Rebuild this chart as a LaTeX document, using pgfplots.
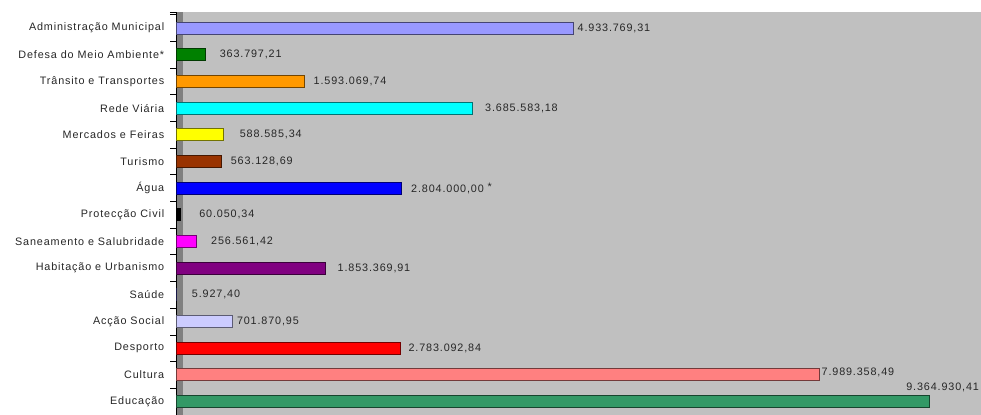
\documentclass[border=0pt]{standalone}
\usepackage{pgfplots}
\pgfplotsset{compat=1.18}
\usepackage{fontspec}
\setmainfont{Liberation Sans}[LetterSpace=8]

\definecolor{plotbg}{HTML}{C0C0C0}
\definecolor{wall}{HTML}{808080}
\definecolor{cAdm}{HTML}{9999FF}
\definecolor{cDef}{HTML}{008000}
\definecolor{cTra}{HTML}{FF9900}
\definecolor{cRed}{HTML}{00FFFF}
\definecolor{cMer}{HTML}{FFFF00}
\definecolor{cTur}{HTML}{993300}
\definecolor{cAgu}{HTML}{0000FF}
\definecolor{cPro}{HTML}{000000}
\definecolor{cSan}{HTML}{FF00FF}
\definecolor{cHab}{HTML}{800080}
\definecolor{cSau}{HTML}{333399}
\definecolor{cAcc}{HTML}{CCCCFF}
\definecolor{cDes}{HTML}{FF0000}
\definecolor{cCul}{HTML}{FF8080}
\definecolor{cEdu}{HTML}{339966}

\pgfplotsset{
  bb/.style={fill=#1, draw=#1!45!black, line width=1bp, bar shift=0pt},
}

\begin{document}
\fontsize{10.8bp}{12bp}\selectfont
\begin{tikzpicture}
\begin{axis}[
    set layers,
    scale only axis,
    width=805bp,
    height=403bp,
    xbar,
    bar width=12bp,
    xmin=0, xmax=10000000,
    ymin=-0.6, ymax=14.5,
    y dir=reverse,
    axis background/.style={fill=plotbg},
    axis line style={draw=none},
    xtick=\empty,
    ytick={0,...,14},
    yticklabels={Administração Municipal, Defesa do Meio Ambiente*, Trânsito e Transportes, Rede Viária, Mercados e Feiras, Turismo, Água, Protecção Civil, Saneamento e Salubridade, Habitação e Urbanismo, Saúde, Acção Social, Desporto, Cultura, Educação},
    minor ytick={-0.5,0.5,...,14.5},
    major tick length=0pt,
    minor tick length=6bp,
    tick align=outside,
    ytick pos=left,
    minor tick style={black, line width=0.8bp},
    yticklabel style={font=\fontsize{10.8bp}{12bp}\selectfont, text=black!85, xshift=-8bp},
    nodes near coords,
    point meta=explicit symbolic,
    every node near coord/.append style={font=\fontsize{10.8bp}{12bp}\selectfont, text=black!85, anchor=west, inner sep=0pt},
    clip=false,
]
\begin{pgfonlayer}{axis grid}
\fill[wall] (rel axis cs:0,0) rectangle ([xshift=7bp]rel axis cs:0,1);
\draw[black, line width=0.8bp] ([xshift=-6bp]rel axis cs:0,1) -- (rel axis cs:0,1) -- (rel axis cs:0,0) -- ([xshift=-6bp]rel axis cs:0,0);
\end{pgfonlayer}
\addplot[bb=cAdm, nodes near coords style={xshift=4bp}] coordinates {(4933769.31,0) [4.933.769,31]};
\addplot[bb=cDef, nodes near coords style={xshift=14bp}] coordinates {(363797.21,1) [363.797,21]};
\addplot[bb=cTra, nodes near coords style={xshift=9bp}] coordinates {(1593069.74,2) [1.593.069,74]};
\addplot[bb=cRed, nodes near coords style={xshift=12bp}] coordinates {(3685583.18,3) [3.685.583,18]};
\addplot[bb=cMer, nodes near coords style={xshift=16bp}] coordinates {(588585.34,4) [588.585,34]};
\addplot[bb=cTur, nodes near coords style={xshift=9bp}] coordinates {(563128.69,5) [563.128,69]};
\addplot[bb=cAgu, nodes near coords style={xshift=9bp}] coordinates {(2804000.00,6) [2.804.000,00 \raisebox{2bp}{*}]};
\addplot[bb=cPro, nodes near coords style={xshift=18bp}] coordinates {(60050.34,7) [60.050,34]};
\addplot[bb=cSan, nodes near coords style={xshift=14bp}] coordinates {(256561.42,8) [256.561,42]};
\addplot[bb=cHab, nodes near coords style={xshift=12bp}] coordinates {(1853369.91,9) [1.853.369,91]};
\addplot[bb=cSau, nodes near coords style={xshift=15bp}] coordinates {(5927.40,10) [5.927,40]};
\addplot[bb=cAcc, nodes near coords style={xshift=4bp}] coordinates {(701870.95,11) [701.870,95]};
\addplot[bb=cDes, nodes near coords style={xshift=8bp}] coordinates {(2783092.84,12) [2.783.092,84]};
\addplot[bb=cCul, nodes near coords style={xshift=2bp, yshift=3bp}] coordinates {(7989358.49,13) [7.989.358,49]};
\addplot[bb=cEdu, nodes near coords style={xshift=-24bp, yshift=14bp}] coordinates {(9364930.41,14) [9.364.930,41]};
\end{axis}
\pgfresetboundingbox
\path[use as bounding box] (-176bp,0) rectangle (805bp,415bp);
\end{tikzpicture}
\end{document}
